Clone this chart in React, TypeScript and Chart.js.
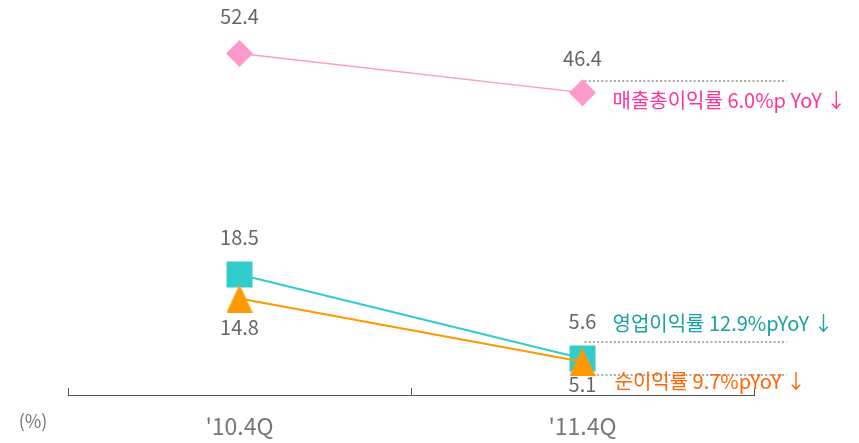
import React, { useEffect, useRef } from "react";
import { Chart, registerables } from "chart.js";

Chart.register(...registerables);

const categories = ["'10.4Q", "'11.4Q"];
const grossMargin = [52.4, 46.4];
const operatingMargin = [18.5, 5.6];
const netMargin = [14.8, 5.1];
const grossNote = "매출총이익률 6.0%p YoY ↓";
const operatingNote = "영업이익률 12.9%pYoY ↓";
const netNote = "순이익률 9.7%pYoY ↓";
const unitLabel = "(%)";

const FONT = "'Noto Sans CJK KR', 'Noto Sans', sans-serif";

function makeTriangle(color: string, w: number, h: number) {
  const c = document.createElement("canvas");
  c.width = w;
  c.height = h;
  const ctx = c.getContext("2d")!;
  ctx.fillStyle = color;
  ctx.beginPath();
  ctx.moveTo(w / 2, 0);
  ctx.lineTo(w, h);
  ctx.lineTo(0, h);
  ctx.closePath();
  ctx.fill();
  return c;
}

export default function App() {
  const ref = useRef<HTMLCanvasElement>(null);

  useEffect(() => {
    const canvas = ref.current!;
    const tri = makeTriangle("#ff9900", 26, 28);

    const labelOffsets = [
      [-37, -34],
      [-37, -37],
      [29, 23],
    ];
    const notes = [
      { text: grossNote, color: "#ff3399", dx: 30, dy: 8, lineDy: -12 },
      { text: operatingNote, color: "#17a39e", dx: 30, dy: -35, lineDy: -17 },
      { text: netNote, color: "#ff6600", dx: 32, dy: 20, lineDy: 13 },
    ];

    const decor = {
      id: "decor",
      beforeDatasetsDraw(chart: any) {
        const ctx = chart.ctx;
        ctx.save();
        ctx.strokeStyle = "#aaaaaa";
        ctx.lineWidth = 2;
        ctx.setLineDash([2, 2.2]);
        for (let d = 0; d < 3; d++) {
          const meta = chart.getDatasetMeta(d);
          const p = meta.data[1];
          const y = Math.round(p.y + notes[d].lineDy);
          ctx.beginPath();
          ctx.moveTo(p.x + 2, y);
          ctx.lineTo(p.x + 204, y);
          ctx.stroke();
        }
        ctx.restore();
      },
      afterDraw(chart: any) {
        const ctx = chart.ctx;
        const xs = chart.scales.x;
        const bottom = chart.chartArea.bottom;
        ctx.save();
        ctx.strokeStyle = "#555555";
        ctx.lineWidth = 1;
        const mid = (xs.getPixelForValue(0) + xs.getPixelForValue(1)) / 2;
        [xs.left, mid, xs.right].forEach((x: number) => {
          const px = Math.round(x) + 0.5;
          ctx.beginPath();
          ctx.moveTo(px, bottom);
          ctx.lineTo(px, bottom - 7);
          ctx.stroke();
        });
        ctx.fillStyle = "#777777";
        ctx.font = `18px ${FONT}`;
        ctx.textAlign = "center";
        ctx.textBaseline = "middle";
        ctx.fillText(unitLabel, 33, 421);
        ctx.font = `20px ${FONT}`;
        ctx.fillStyle = "#666666";
        for (let d = 0; d < 3; d++) {
          const meta = chart.getDatasetMeta(d);
          const vals = chart.data.datasets[d].data;
          meta.data.forEach((p: any, i: number) => {
            ctx.fillText(String(vals[i]), p.x, p.y + labelOffsets[d][i]);
          });
        }
        ctx.font = `20px ${FONT}`;
        ctx.textAlign = "left";
        for (let d = 0; d < 3; d++) {
          const p = chart.getDatasetMeta(d).data[1];
          ctx.fillStyle = notes[d].color;
          ctx.fillText(notes[d].text, p.x + notes[d].dx, p.y + notes[d].dy);
        }
        ctx.restore();
      },
    };

    const chart = new Chart(canvas, {
      type: "line",
      data: {
        labels: categories,
        datasets: [
          {
            label: "매출총이익률",
            data: grossMargin,
            borderColor: "#ff99cc",
            backgroundColor: "#ff99cc",
            borderWidth: 1.5,
            pointStyle: "rectRot",
            pointRadius: 13.5,
            pointBorderWidth: 0,
            order: 2,
          },
          {
            label: "영업이익률",
            data: operatingMargin,
            borderColor: "#33cccc",
            backgroundColor: "#33cccc",
            borderWidth: 2,
            pointStyle: "rect",
            pointRadius: 18.4,
            pointBorderWidth: 0,
            order: 1,
          },
          {
            label: "순이익률",
            data: netMargin,
            borderColor: "#ff9900",
            backgroundColor: "#ff9900",
            borderWidth: 2,
            pointStyle: tri as any,
            pointRadius: 14,
            pointBorderWidth: 0,
            order: 0,
          },
        ],
      },
      options: {
        animation: false,
        responsive: false,
        maintainAspectRatio: false,
        layout: { autoPadding: false, padding: { left: 68, right: 105, top: 4, bottom: 4 } },
        plugins: {
          legend: { display: false },
          tooltip: { enabled: false },
        },
        scales: {
          x: {
            type: "category",
            offset: true,
            grid: { display: false, drawTicks: false },
            border: { display: true, color: "#555555", width: 1 },
            ticks: {
              color: "#777777",
              font: { family: FONT, size: 23 },
              padding: 17,
              maxRotation: 0,
            },
            afterFit: (scale: any) => {
              scale.height = 44;
            },
          },
          y: {
            display: false,
            min: 0,
            max: 60,
          },
        },
      },
      plugins: [decor],
    });
    return () => chart.destroy();
  }, []);

  return (
    <div style={{ position: "absolute", left: 0, top: 0, width: 859, height: 443, background: "#ffffff" }}>
      <canvas ref={ref} width={859} height={443} style={{ width: 859, height: 443 }} />
    </div>
  );
}
